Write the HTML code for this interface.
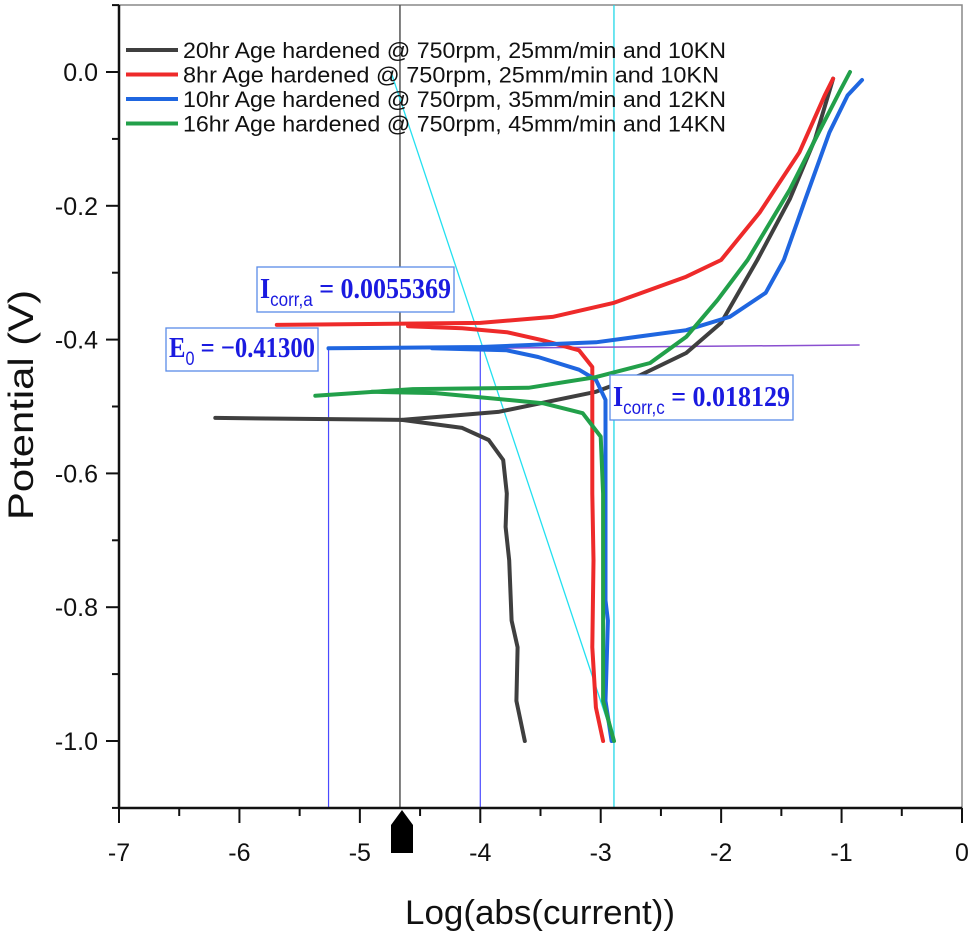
<!DOCTYPE html>
<html><head><meta charset="utf-8"><style>
html,body{margin:0;padding:0;background:#fff;}
svg{display:block;font-family:"Liberation Sans",sans-serif;}
</style></head><body>
<svg id="chart" width="975" height="941" viewBox="0 0 975 941" xmlns="http://www.w3.org/2000/svg"></svg>
<script>
const xTicks=[-7,-6,-5,-4,-3,-2,-1,0];
const yTicks=[0.0,-0.2,-0.4,-0.6,-0.8,-1.0];
const yTickLabels=["0.0","-0.2","-0.4","-0.6","-0.8","-1.0"];
const seriesNames=["20hr Age hardened @ 750rpm, 25mm/min and 10KN","8hr Age hardened @ 750rpm, 25mm/min and 10KN","10hr Age hardened @ 750rpm, 35mm/min and 12KN","16hr Age hardened @ 750rpm, 45mm/min and 14KN"];
const blackAnodic=[[-6.2,-0.517],[-4.65,-0.52],[-3.85,-0.508],[-3.04,-0.478],[-2.67,-0.453],[-2.29,-0.42],[-2.0,-0.375],[-1.7,-0.281],[-1.43,-0.19],[-1.22,-0.10],[-1.07,-0.01]];
const blackCathodic=[[-4.65,-0.52],[-4.15,-0.532],[-3.93,-0.55],[-3.81,-0.58],[-3.78,-0.63],[-3.79,-0.68],[-3.76,-0.73],[-3.74,-0.82],[-3.69,-0.86],[-3.70,-0.94],[-3.63,-1.0]];
const redAnodic=[[-5.69,-0.378],[-4.0,-0.375],[-3.4,-0.366],[-2.89,-0.345],[-2.29,-0.306],[-2.0,-0.281],[-1.68,-0.21],[-1.35,-0.12],[-1.14,-0.035],[-1.07,-0.01]];
const redCathodic=[[-4.6,-0.38],[-4.15,-0.383],[-3.78,-0.389],[-3.48,-0.401],[-3.18,-0.416],[-3.07,-0.441],[-3.07,-0.505],[-3.07,-0.63],[-3.06,-0.73],[-3.07,-0.86],[-3.04,-0.95],[-2.98,-1.0]];
const blueAnodic=[[-5.26,-0.413],[-4.0,-0.411],[-3.04,-0.404],[-2.29,-0.386],[-1.93,-0.366],[-1.63,-0.33],[-1.48,-0.281],[-1.30,-0.19],[-1.10,-0.09],[-0.95,-0.035],[-0.83,-0.012]];
const blueCathodic=[[-4.4,-0.413],[-3.78,-0.416],[-3.52,-0.426],[-3.18,-0.445],[-3.04,-0.46],[-2.96,-0.49],[-2.96,-0.63],[-2.96,-0.79],[-2.94,-0.82],[-2.96,-0.94],[-2.91,-1.0]];
const greenAnodic=[[-5.37,-0.484],[-4.56,-0.474],[-3.6,-0.472],[-3.04,-0.456],[-2.59,-0.435],[-2.29,-0.396],[-2.03,-0.341],[-1.78,-0.281],[-1.43,-0.176],[-1.18,-0.087],[-1.01,-0.027],[-0.93,0.0]];
const greenCathodic=[[-4.9,-0.478],[-4.37,-0.48],[-3.48,-0.495],[-3.15,-0.51],[-3.0,-0.545],[-2.98,-0.63],[-2.98,-0.94],[-2.89,-1.0]];
const annotE0=-0.413;
const annotX=[-5.26,-4.0];
const cursorX=-4.667;
const cyanX=-2.89;

const NS="http://www.w3.org/2000/svg";
const svg=document.getElementById('chart');
const X0=119,X1=962,Y0=72,Y1=741;
function sx(v){return X0+(v+7)*(X1-X0)/7;}
function sy(v){return Y0-v*(Y1-Y0);}
function mk(tag,attrs,parent){const e=document.createElementNS(NS,tag);for(const k in attrs)e.setAttribute(k,attrs[k]);(parent||svg).appendChild(e);return e;}
const TOPY=5,BOTY=808;
let f=mk('rect',{x:X0,y:TOPY,width:X1-X0,height:BOTY-TOPY,fill:'none',stroke:'#888','stroke-width':1.5});


let g=mk('line',{x1:sx(cursorX),y1:TOPY,x2:sx(cursorX),y2:BOTY,stroke:'#555','stroke-width':1.5});


let c=mk('line',{x1:sx(cyanX),y1:TOPY,x2:sx(cyanX),y2:BOTY,stroke:'#22d8e8','stroke-width':1.3});


let d=mk('line',{x1:391,y1:sy(0),x2:sx(cyanX),y2:sy(-1.0),stroke:'#22e0f0','stroke-width':1.3});


annotX.forEach((v,i)=>{let l=mk('line',{x1:sx(v),y1:sy(annotE0),x2:sx(v),y2:BOTY,stroke:'#4a4aff','stroke-width':1.2});

});
let p=mk('line',{x1:sx(-4.0),y1:sy(-0.413),x2:sx(-0.85),y2:sy(-0.408),stroke:'#8a4fd0','stroke-width':1.5});


const colors=['#3f3f3f','#ee2a2a','#1f66e0','#22a04a'];
const sets=[[blackAnodic,blackCathodic],[redAnodic,redCathodic],[blueAnodic,blueCathodic],[greenAnodic,greenCathodic]];
const snames=['series-20hr','series-8hr','series-10hr','series-16hr'];
sets.forEach((s,i)=>{s.forEach((arr,j)=>{
 const dd=arr.map((pt,k)=>(k?'L':'M')+sx(pt[0]).toFixed(1)+','+sy(pt[1]).toFixed(1)).join(' ');
 let pa=mk('path',{d:dd,fill:'none',stroke:colors[i],'stroke-width':4,'stroke-linejoin':'round','stroke-linecap':'round'});
 
 
});});
let ax=mk('line',{x1:X0,y1:TOPY,x2:X0,y2:BOTY,stroke:'#111','stroke-width':2.5});


let bx=mk('line',{x1:X0,y1:BOTY,x2:X1,y2:BOTY,stroke:'#111','stroke-width':2.5});


xTicks.forEach((v,i)=>{mk('line',{x1:sx(v),y1:BOTY,x2:sx(v),y2:BOTY+15,stroke:'#111','stroke-width':2});
 if(i<xTicks.length-1)mk('line',{x1:sx(v+0.5),y1:BOTY,x2:sx(v+0.5),y2:BOTY+8,stroke:'#111','stroke-width':2});
 let t=mk('text',{x:sx(v),y:861,'font-size':25,'text-anchor':'middle',fill:'#111'});t.textContent=String(v);
 
 });
yTicks.forEach((v,i)=>{mk('line',{x1:X0-13,y1:sy(v),x2:X0,y2:sy(v),stroke:'#111','stroke-width':2});
 mk('line',{x1:X0-7,y1:sy(v+0.1),x2:X0,y2:sy(v+0.1),stroke:'#111','stroke-width':2});
 let t=mk('text',{x:98,y:sy(v)+9,'font-size':25,'text-anchor':'end',fill:'#111'});t.textContent=yTickLabels[i];
 
 });
mk('line',{x1:X0-7,y1:sy(-1.1),x2:X0,y2:sy(-1.1),stroke:'#111','stroke-width':2});
let xt=mk('text',{x:540,y:924,'font-size':34,'text-anchor':'middle',fill:'#111',textLength:270,lengthAdjust:'spacingAndGlyphs'});xt.textContent='Log(abs(current))';


let yt=mk('text',{x:0,y:0,'font-size':35,'text-anchor':'middle',fill:'#111',textLength:230,lengthAdjust:'spacingAndGlyphs',transform:'translate(33,405) rotate(-90)'});yt.textContent='Potential (V)';


let m=mk('path',{d:'M402,810 L413,825 L413,853 L391,853 L391,825 Z',fill:'#000'});


seriesNames.forEach((n,i)=>{const y=50+i*24.5;
 let l=mk('line',{x1:126,y1:y,x2:178,y2:y,stroke:colors[i],'stroke-width':4});
 
 
 let t=mk('text',{x:183,y:y+8,'font-size':22,fill:'#111',textLength:(i==1?536:543),lengthAdjust:'spacingAndGlyphs'});t.textContent=n;
 
 });
function box(x,y,w,h,main,sub,val,name){
 let gg=mk('g',{});
 
 
 mk('rect',{x:x,y:y,width:w,height:h,fill:'#fff',stroke:'#5a8ce8','stroke-width':1.3},gg);
 let t=mk('text',{x:x+3,y:y+h-14,'font-size':29,fill:'#1a1ae0','font-family':'Liberation Serif, serif','font-weight':'bold',textLength:w-6,lengthAdjust:'spacingAndGlyphs'},gg);
 let a=mk('tspan',{},t);a.textContent=main;
 let b=mk('tspan',{'font-size':19,dy:8,'font-family':'Liberation Sans, sans-serif','font-weight':'normal'},t);b.textContent=sub;
 let cc=mk('tspan',{dy:-8},t);cc.textContent=val;
}
box(257,267,197,45,'I','corr,a',' = 0.0055369','icorr-a-label');
box(166,328,152,43,'E','0',' = \u22120.41300','e0-label');
box(610,375,183,45,'I','corr,c',' = 0.018129','icorr-c-label');
</script>
</body></html>
